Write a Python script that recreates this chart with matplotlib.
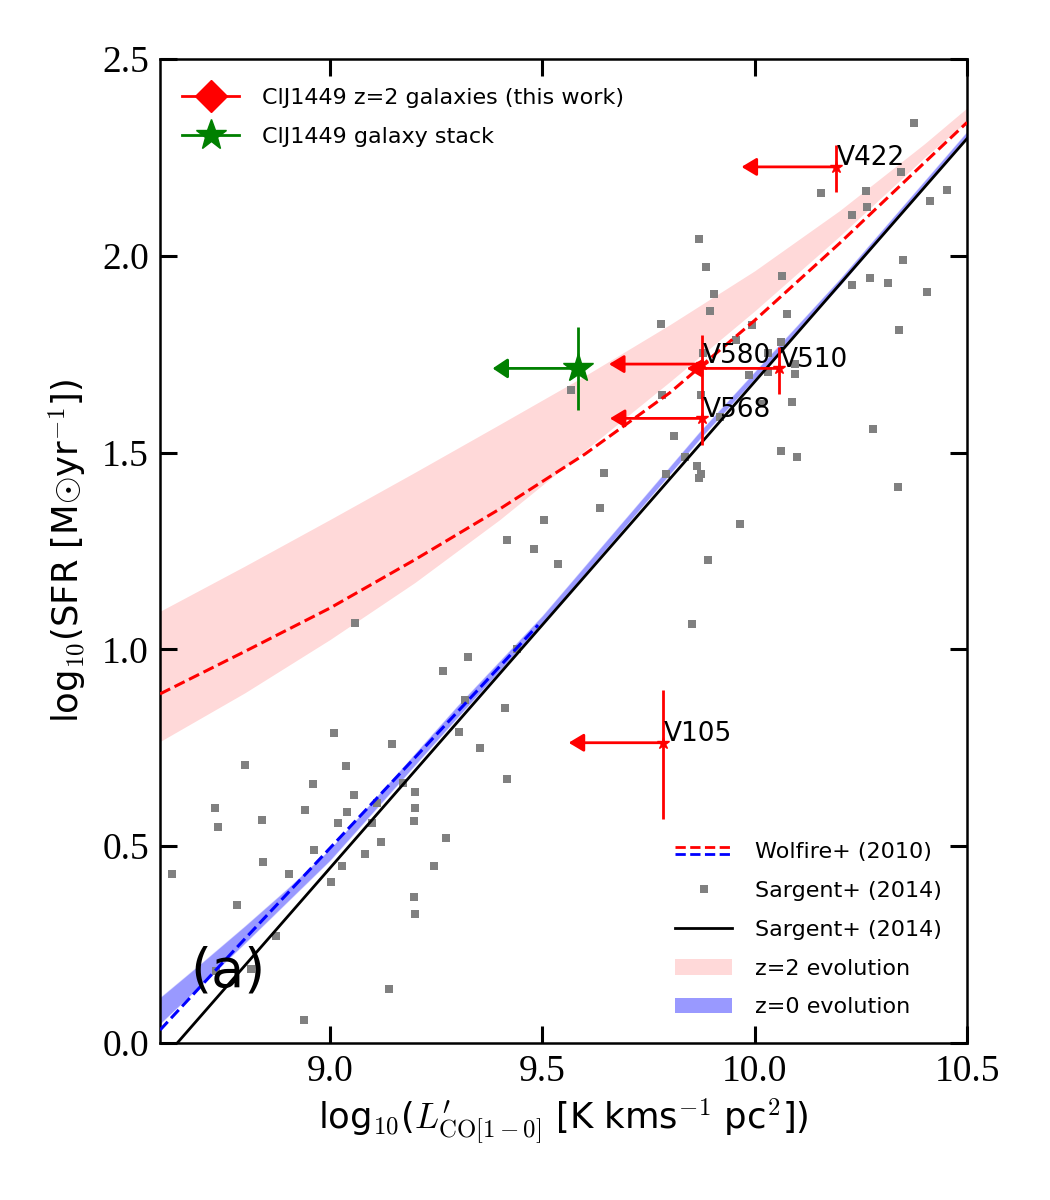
import matplotlib
matplotlib.use('Agg')
import matplotlib.pyplot as plt
from matplotlib.lines import Line2D
from matplotlib.patches import Patch
from matplotlib.legend_handler import HandlerBase

plt.rcParams['font.family'] = ['DejaVu Sans']
plt.rcParams['mathtext.fontset'] = 'cm'

# ---------------- data ----------------
# Sargent+ (2014) local sample (grey squares)
sargent_x = [9.060, 9.266, 9.303, 9.009, 9.147, 8.800, 9.039, 8.960, 9.056, 9.171,
             9.200, 8.729, 8.941, 9.040, 9.112, 9.200, 8.737, 8.840, 9.020, 9.100,
             9.197, 9.274, 8.962, 9.121, 8.843, 9.083, 9.028, 9.244, 8.628, 8.903,
             9.002, 8.782, 9.199, 9.200, 8.872, 8.732, 8.815, 9.140, 8.939,
             9.809, 9.836, 9.864, 9.874, 9.870, 9.792, 9.645, 9.637, 9.503, 9.417,
             9.480, 9.538, 9.852, 9.325, 9.440, 9.318, 9.412, 9.353, 9.417,
             9.779, 9.568, 9.782,
             10.376, 10.344, 10.262, 10.264, 10.157, 10.453, 10.413, 10.230, 9.870, 9.886,
             9.905, 9.895, 10.064, 10.350, 10.228, 10.271, 10.315, 10.406, 10.076, 9.994,
             10.340, 9.955, 10.061, 9.878, 10.031, 10.094, 9.986, 10.031, 10.094, 9.874,
             10.087, 10.018, 9.919,
             10.279, 10.061, 10.100, 10.338, 9.966, 9.889]
sargent_y = [1.067, 0.945, 0.790, 0.787, 0.760, 0.707, 0.703, 0.657, 0.630, 0.660,
             0.637, 0.597, 0.591, 0.587, 0.611, 0.597, 0.550, 0.567, 0.558, 0.558,
             0.564, 0.521, 0.491, 0.510, 0.460, 0.480, 0.450, 0.450, 0.429, 0.430,
             0.410, 0.350, 0.371, 0.327, 0.271, 0.184, 0.188, 0.137, 0.058,
             1.542, 1.490, 1.466, 1.447, 1.436, 1.447, 1.449, 1.360, 1.328, 1.277,
             1.256, 1.216, 1.064, 0.981, 1.002, 0.872, 0.851, 0.750, 0.670,
             1.827, 1.660, 1.646,
             2.337, 2.212, 2.166, 2.124, 2.159, 2.168, 2.140, 2.105, 2.043, 1.971,
             1.902, 1.859, 1.949, 1.989, 1.926, 1.943, 1.931, 1.909, 1.853, 1.824,
             1.811, 1.786, 1.782, 1.753, 1.753, 1.725, 1.696, 1.704, 1.701, 1.646,
             1.628, 1.624, 1.591,
             1.559, 1.503, 1.489, 1.412, 1.318, 1.228]

# Sargent+ (2014) relation (black line)
sargent_line_x = [8.6, 10.5]
sargent_line_y = [-0.050, 2.298]

# Wolfire+ (2010) z=2 curve (red dashed)
wolf2_x = [8.6, 8.8, 9.0, 9.2, 9.4, 9.6, 9.8, 10.0, 10.2, 10.4, 10.5]
wolf2_y = [0.887, 0.995, 1.105, 1.228, 1.357, 1.496, 1.652, 1.836, 2.032, 2.237, 2.339]

# z=2 evolution band (pink)
band2_x = [8.6, 8.8, 9.0, 9.2, 9.4, 9.6, 9.8, 10.0, 10.2, 10.4, 10.5]
band2_lo = [0.766, 0.890, 1.025, 1.170, 1.330, 1.505, 1.680, 1.860, 2.050, 2.250, 2.342]
band2_hi = [1.097, 1.212, 1.330, 1.450, 1.572, 1.695, 1.825, 1.962, 2.115, 2.285, 2.376]

# Wolfire+ (2010) z=0 curve (blue dashed)
wolf0_x = [8.6, 8.8, 9.0, 9.2, 9.4, 9.49]
wolf0_y = [0.033, 0.265, 0.495, 0.725, 0.957, 1.062]

# z=0 evolution band (blue)
band0_x = [8.6, 8.7, 8.8, 8.9, 9.0, 9.3, 9.5, 9.87, 10.2, 10.5]
band0_lo = [0.050, 0.152, 0.255, 0.360, 0.465, 0.828, 1.067, 1.535, 1.925, 2.306]
band0_hi = [0.115, 0.205, 0.297, 0.392, 0.492, 0.856, 1.085, 1.552, 1.940, 2.315]

# ClJ1449 z=2 galaxies (upper limits in L'CO)
gal_names = ['V422', 'V580', 'V510', 'V568', 'V105']
gal_x = [10.191, 9.877, 10.057, 9.877, 9.783]
gal_y = [2.226, 1.725, 1.714, 1.587, 0.763]
gal_yerr_lo = [0.064, 0.090, 0.066, 0.068, 0.195]
gal_yerr_hi = [0.056, 0.074, 0.055, 0.059, 0.134]
gal_xarrow = [0.222, 0.220, 0.217, 0.218, 0.221]

# ClJ1449 galaxy stack
stack_x = [9.583]
stack_y = [1.714]
stack_yerr = [0.106]
stack_xarrow = [0.200]

# ---------------- figure ----------------
fig = plt.figure(figsize=(10.5, 12), dpi=100)
ax = fig.add_axes([0.1524, 0.1308, 0.7686, 0.8200])

ax.fill_between(band2_x, band2_lo, band2_hi, color='red', alpha=0.15, lw=0, zorder=1)
ax.fill_between(band0_x, band0_lo, band0_hi, color='blue', alpha=0.4, lw=0.8,
                edgecolor=(0.6, 0.6, 1.0), zorder=1.5)

ax.plot(sargent_x, sargent_y, ls='none', marker='s', ms=5.5, color='gray', mew=0, zorder=2)

ax.plot(sargent_line_x, sargent_line_y, color='black', lw=2, zorder=3)
ax.plot(wolf2_x, wolf2_y, color='red', ls='--', lw=2.2, zorder=3)
ax.plot(wolf0_x, wolf0_y, color='blue', ls='--', lw=2.2, zorder=3)

# galaxies
ax.errorbar(gal_x, gal_y, yerr=[gal_yerr_lo, gal_yerr_hi], fmt='none', ecolor='red',
            elinewidth=2, capsize=0, zorder=5)
for x, y, dx in zip(gal_x, gal_y, gal_xarrow):
    ax.annotate('', xy=(x - dx, y), xytext=(x, y),
                arrowprops=dict(arrowstyle='-|>,head_length=0.45,head_width=0.27',
                                color='red', lw=2, shrinkA=0, shrinkB=0,
                                mutation_scale=20), zorder=5)
ax.plot(gal_x, gal_y, ls='none', marker='*', ms=9, color='red', zorder=6)
for name, x, y in zip(gal_names, gal_x, gal_y):
    ax.text(x + 0.002, y + 0.004, name, fontsize=19, ha='left', va='baseline', zorder=7)

# stack
ax.errorbar(stack_x, stack_y, yerr=stack_yerr, fmt='none', ecolor='green', elinewidth=2,
            capsize=0, zorder=5)
for x, y, dx in zip(stack_x, stack_y, stack_xarrow):
    ax.annotate('', xy=(x - dx, y), xytext=(x, y),
                arrowprops=dict(arrowstyle='-|>,head_length=0.45,head_width=0.3',
                                color='green', lw=2, shrinkA=0, shrinkB=0,
                                mutation_scale=20), zorder=5)
ax.plot(stack_x, stack_y, ls='none', marker='*', ms=22, color='green', zorder=6)

ax.text(0.038, 0.073, '(a)', transform=ax.transAxes, fontsize=39, ha='left', va='center',
        zorder=8)

# axes
ax.set_xlim(8.6, 10.5)
ax.set_ylim(0.0, 2.5)
ax.set_xticks([9.0, 9.5, 10.0, 10.5])
ax.set_yticks([0.0, 0.5, 1.0, 1.5, 2.0, 2.5])
ax.set_xticklabels(['9.0', '9.5', '10.0', '10.5'])
ax.set_yticklabels(['0.0', '0.5', '1.0', '1.5', '2.0', '2.5'])
ax.tick_params(which='both', direction='in', top=True, right=True, length=12, width=2.2,
               labelsize=27, pad=8, labelfontfamily='Liberation Serif')
for s in ax.spines.values():
    s.set_linewidth(1.8)

ax.set_xlabel(r'log$_{10}$($L^{\prime}_{\rm CO[1-0]}$ [K kms$^{-1}$ pc$^{2}$])', fontsize=25.5,
              labelpad=6)
ax.set_ylabel(r'log$_{10}$(SFR [M$\odot$yr$^{-1}$])', fontsize=25.5, labelpad=10)

# legends
h_gal = Line2D([], [], color='red', marker='D', ms=16, lw=2)
h_stack = Line2D([], [], color='green', marker='*', ms=23, lw=2)
leg1 = ax.legend([h_gal, h_stack], ['ClJ1449 z=2 galaxies (this work)', 'ClJ1449 galaxy stack'],
                 loc='upper left', bbox_to_anchor=(-0.009, 1.0), frameon=False, fontsize=16,
                 numpoints=1, handlelength=2.6, handletextpad=1.0, labelspacing=0.85,
                 borderaxespad=0.9)
ax.add_artist(leg1)


class WolfireHandle:
    pass


class HandlerWolfire(HandlerBase):
    def create_artists(self, legend, orig_handle, xdescent, ydescent, width, height,
                       fontsize, trans):
        xs = [-xdescent, width - xdescent]
        l1 = Line2D(xs, [0.72 * height - ydescent] * 2, color='red', ls='--', lw=2)
        l2 = Line2D(xs, [0.28 * height - ydescent] * 2, color='blue', ls='--', lw=2)
        l1.set_transform(trans)
        l2.set_transform(trans)
        return [l1, l2]


h_wolf = WolfireHandle()
h_sq = Line2D([], [], color='gray', marker='s', ms=6, ls='none', mew=0)
h_line = Line2D([], [], color='black', lw=2)
h_p2 = Patch(facecolor='red', alpha=0.15, lw=0)
h_p0 = Patch(facecolor='blue', alpha=0.4, lw=0)
leg2 = ax.legend([h_wolf, h_sq, h_line, h_p2, h_p0],
                 ['Wolfire+ (2010)', 'Sargent+ (2014)', 'Sargent+ (2014)',
                  'z=2 evolution', 'z=0 evolution'],
                 handler_map={WolfireHandle: HandlerWolfire()},
                 loc='lower right', frameon=False, fontsize=16, numpoints=1,
                 handlelength=2.6, handletextpad=1.0, labelspacing=0.85, borderaxespad=0.75)

fig.savefig('out.png', dpi=100)
